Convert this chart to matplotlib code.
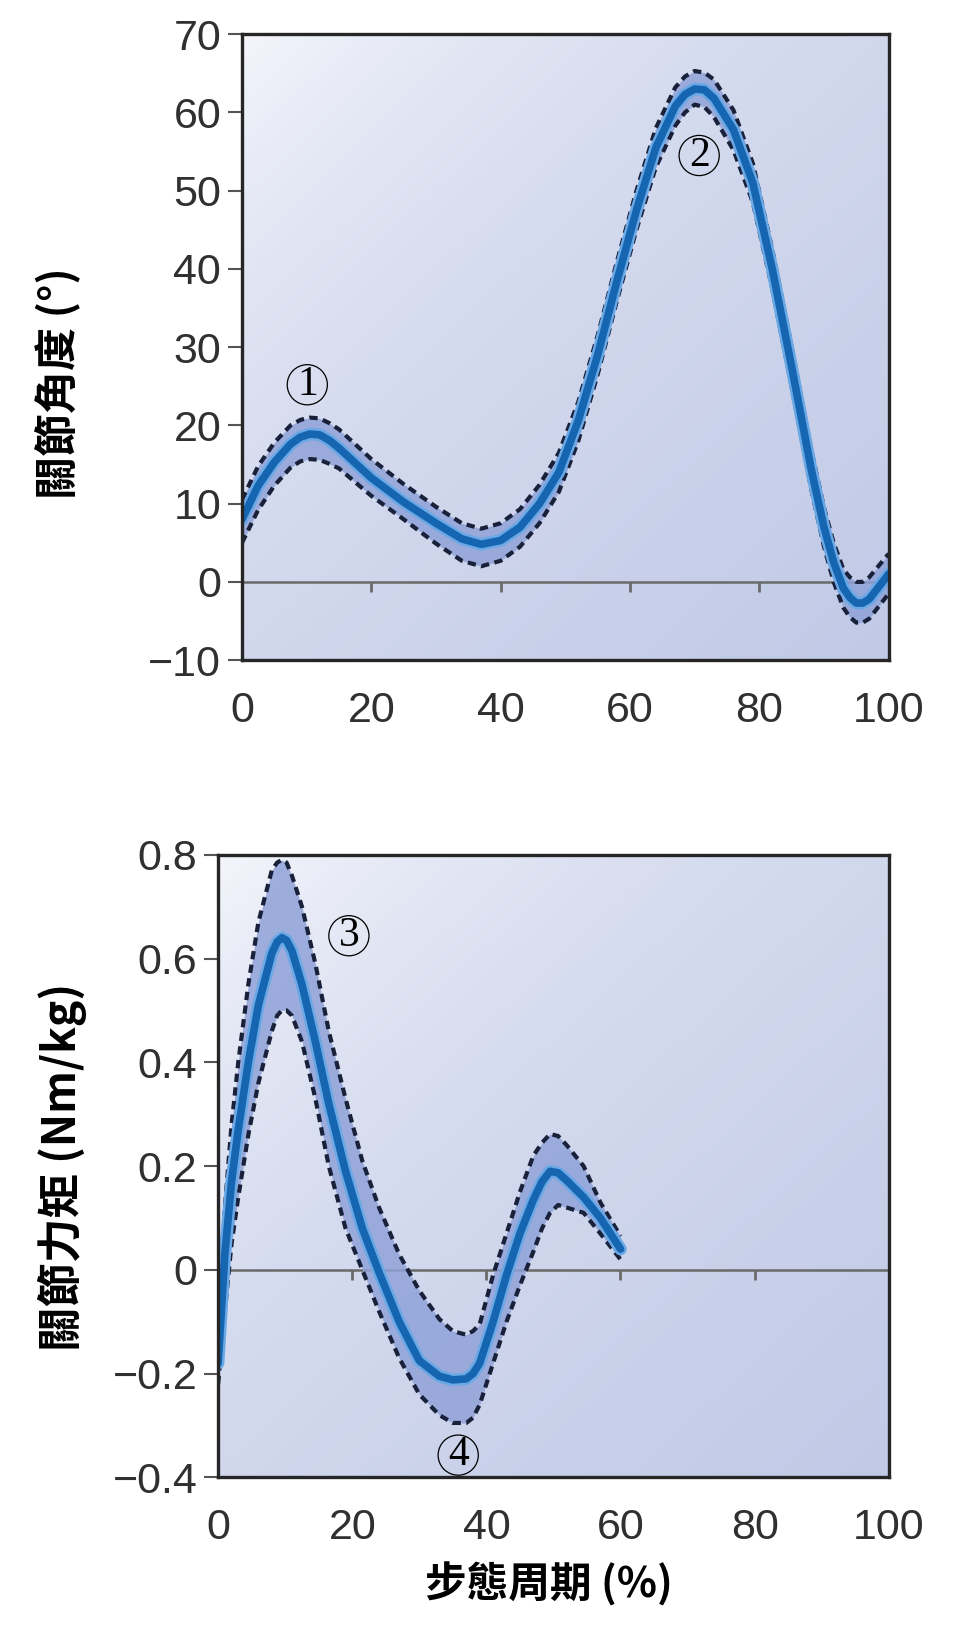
"""
plot.py - joint angle and joint moment over the gait cycle (mean +/- band),
two stacked panels. Saves out.png.

    python plot.py
"""

import numpy as np
import matplotlib
matplotlib.use("Agg")
import matplotlib.pyplot as plt
from matplotlib.colors import LinearSegmentedColormap

# ---- data ------------------------------------------------------------------
# top panel: joint angle (deg) vs gait cycle (%)
angle_x = [0, 2.5, 5, 7.5, 9, 10.5, 12, 13.5, 15, 20, 25, 30, 34, 37, 40, 43,
           46, 49, 52, 55, 58, 61, 64, 67, 68.5, 70, 71.5, 73, 76, 79, 82, 85,
           88, 90, 91.5, 93, 94, 95, 96, 97, 100]
angle_mean = [8, 12.3, 15.3, 17.6, 18.5, 18.9, 18.8, 18.1, 17.1, 13.3, 10.2,
              7.5, 5.5, 4.8, 5.3, 7.0, 10.0, 14.0, 20.6, 29.0, 38.5, 47.5, 55.5,
              60.8, 62.3, 63.0, 62.9, 61.8, 57.8, 51.0, 40.0, 27.5, 14.5, 7.0,
              2.5, -0.8, -2.0, -2.7, -2.7, -2.2, 1.0]
angle_upper = [10.5, 14.8, 17.8, 20.0, 20.7, 21.0, 20.9, 20.3, 19.5, 15.7, 12.5,
               9.6, 7.5, 6.8, 7.5, 9.3, 12.4, 16.5, 23.0, 31.5, 41.0, 50.0,
               58.0, 63.2, 64.6, 65.3, 65.1, 64.2, 60.3, 53.5, 42.5, 30.0, 17.0,
               9.5, 5.0, 1.6, 0.6, 0.0, 0.0, 0.6, 3.6]
angle_lower = [5.0, 9.2, 12.3, 14.6, 15.4, 15.7, 15.6, 15.1, 14.5, 11.0, 8.0,
               4.9, 2.7, 2.0, 2.7, 4.5, 7.5, 11.5, 18.0, 26.5, 36.0, 45.0, 53.0,
               58.3, 60.0, 61.0, 60.7, 59.4, 55.2, 48.5, 37.5, 25.0, 12.0, 4.5,
               0.0, -3.3, -4.5, -5.2, -5.2, -4.7, -1.5]
angle_yticks = [-10, 0, 10, 20, 30, 40, 50, 60, 70]
angle_ylabels = ["\u221210", "0", "10", "20", "30", "40", "50", "60", "70"]

# bottom panel: joint moment (Nm/kg) vs gait cycle (%), stance only
moment_x = [0, 1, 2, 3, 4.5, 6, 8, 8.8, 9.5, 10.2, 11, 12.5, 14.5, 16.5, 19,
            21.5, 24, 27, 30, 33, 35, 37, 38, 39, 41, 43, 45, 47, 48.3, 49.5,
            50.7, 52, 54.5, 57, 60]
moment_mean = [-0.18, 0.03, 0.17, 0.27, 0.40, 0.51, 0.61, 0.632, 0.64, 0.635,
               0.615, 0.55, 0.44, 0.32, 0.19, 0.08, -0.005, -0.10, -0.175,
               -0.205, -0.212, -0.21, -0.20, -0.18, -0.10, -0.01, 0.07, 0.135,
               0.17, 0.19, 0.187, 0.172, 0.14, 0.10, 0.04]
moment_upper = [-0.14, 0.12, 0.28, 0.40, 0.55, 0.67, 0.77, 0.785, 0.79, 0.785,
                0.76, 0.70, 0.59, 0.46, 0.33, 0.21, 0.12, 0.03, -0.04, -0.095,
                -0.118, -0.125, -0.118, -0.105, -0.01, 0.07, 0.15, 0.22, 0.245,
                0.262, 0.258, 0.24, 0.20, 0.13, 0.065]
moment_lower = [-0.22, -0.08, 0.05, 0.14, 0.26, 0.36, 0.46, 0.49, 0.50, 0.50,
                0.49, 0.44, 0.33, 0.20, 0.08, 0.0, -0.08, -0.17, -0.24, -0.28,
                -0.295, -0.295, -0.285, -0.26, -0.18, -0.10, -0.03, 0.035, 0.08,
                0.11, 0.125, 0.12, 0.11, 0.07, 0.02]
moment_yticks = [-0.4, -0.2, 0, 0.2, 0.4, 0.6, 0.8]
moment_ylabels = ["\u22120.4", "\u22120.2", "0", "0.2", "0.4", "0.6", "0.8"]

xticks = [0, 20, 40, 60, 80, 100]
xticklabels = ["0", "20", "40", "60", "80", "100"]
inner_ticks = [20, 40, 60, 80]          # little ticks sitting on the zero line

# circled markers: (label, x, y)
angle_marks = [("1", 10.1, 25.2), ("2", 70.7, 54.5)]
moment_marks = [("3", 19.5, 0.644), ("4", 35.8, -0.357)]

# ---- style -----------------------------------------------------------------
CJK = ["Noto Sans CJK TC", "DejaVu Sans"]
TICK_FONT = "Liberation Sans"
BG = LinearSegmentedColormap.from_list("bg", ["#f6f7fc", "#d6dcef", "#c0c9e6"])

fig = plt.figure(figsize=(9.58, 16.3), dpi=100)
ax1 = fig.add_axes([0.2526, 0.595, 0.675, 0.384])
ax2 = fig.add_axes([0.2277, 0.0936, 0.700, 0.382])

# diagonal light-to-blue shading behind the data
gx, gy = np.meshgrid(np.linspace(0, 1, 200), np.linspace(0, 1, 200))
shade = ((gx + gy) / 2) ** 0.7


def draw_panel(ax, x, mean, upper, lower, ylim, yticks, ylabels, marks):
    ax.imshow(shade, cmap=BG, extent=[0, 1, 0, 1], transform=ax.transAxes,
              aspect="auto", origin="upper", zorder=0)
    ax.set_xlim(0, 100)
    ax.set_ylim(*ylim)

    ax.axhline(0, color="#6a6a6a", lw=1.8, zorder=1)
    ax.plot(inner_ticks, [0] * len(inner_ticks), ls="none", marker=3,
            ms=7, mew=2, color="#6a6a6a", zorder=1)

    ax.fill_between(x, lower, upper, color="#8fa2d8", alpha=0.85, lw=0, zorder=2)
    for band in (upper, lower):
        ax.plot(x, band, color="#18203a", lw=3.0, ls=(0, (2.0, 1.3)),
                solid_joinstyle="round", zorder=3)
    ax.plot(x, mean, color="#6aa8e6", lw=9, solid_capstyle="round",
            solid_joinstyle="round", zorder=4)
    ax.plot(x, mean, color="#1565b0", lw=5.5, solid_capstyle="round",
            solid_joinstyle="round", zorder=4)

    for lab, mx, my in marks:
        ax.text(mx, my, lab, fontfamily="Liberation Serif", fontsize=30,
                ha="center", va="center", zorder=5,
                bbox=dict(boxstyle="circle,pad=0.02", fc="none", ec="black",
                          lw=0.9))

    ax.set_xticks(xticks)
    ax.set_xticklabels(xticklabels)
    ax.set_yticks(yticks)
    ax.set_yticklabels(ylabels)
    ax.tick_params(axis="x", length=0, pad=22)
    ax.tick_params(axis="y", direction="out", length=10, width=1.5,
                   color="#555555", pad=5)
    for lbl in ax.get_xticklabels() + ax.get_yticklabels():
        lbl.set_fontfamily(TICK_FONT)
        lbl.set_fontsize(31)
        lbl.set_color("#303030")
    for sp in ax.spines.values():
        sp.set_color("#262626")
        sp.set_linewidth(2.4)
        sp.set_zorder(6)


draw_panel(ax1, angle_x, angle_mean, angle_upper, angle_lower, (-10, 70),
           angle_yticks, angle_ylabels, angle_marks)
draw_panel(ax2, moment_x, moment_mean, moment_upper, moment_lower, (-0.4, 0.8),
           moment_yticks, moment_ylabels, moment_marks)

ax1.set_ylabel("關節角度 (°)", family=CJK, fontsize=31, fontweight="bold")
ax1.yaxis.set_label_coords(-0.284, 0.442)
ax1.yaxis.label.set_va("center")

ax2.set_ylabel("關節力矩 (Nm/kg)", family=CJK, fontsize=32, fontweight="bold")
ax2.yaxis.set_label_coords(-0.232, 0.499)
ax2.yaxis.label.set_va("center")

ax2.set_xlabel("步態周期 (%)", family=CJK, fontsize=30, fontweight="bold")
ax2.xaxis.set_label_coords(0.493, -0.172)
ax2.xaxis.label.set_va("center")

fig.savefig("out.png", dpi=100, facecolor="white")
